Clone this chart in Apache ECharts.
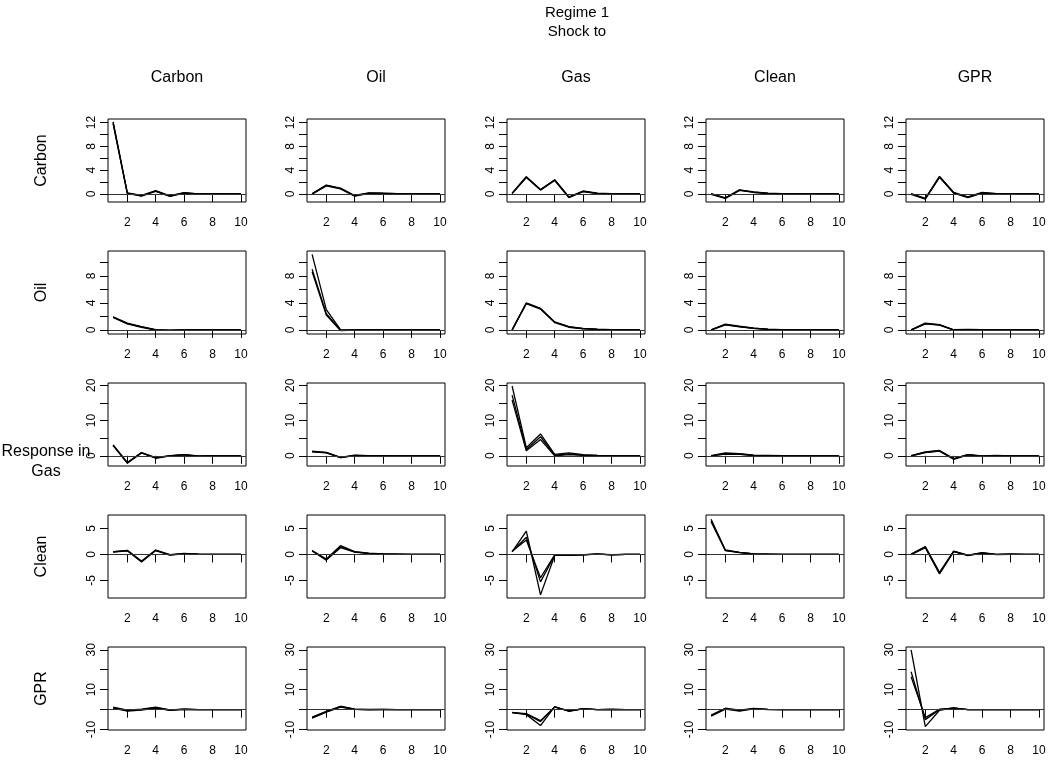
<!DOCTYPE html>
<html>
<head>
<meta charset="utf-8">
<script src="https://cdn.jsdelivr.net/npm/echarts@6/dist/echarts.min.js"></script>
<style>html,body{margin:0;padding:0;background:#fff}#c{width:1050px;height:765px}</style>
</head>
<body>
<div id="c"></div>
<script>
// ---- data ----
const variables = ['Carbon', 'Oil', 'Gas', 'Clean', 'GPR'];
const horizons = [1, 2, 3, 4, 5, 6, 7, 8, 9, 10];
const xTicks = [2, 4, 6, 8, 10];

// each array: [median, lower, upper] response paths (response in ROW variable to shock in COLUMN variable)
const carbon_to_carbon = [
  [12.0, 0.15, -0.3, 0.5, -0.35, 0.2, 0.0, 0.05, 0.0, 0.0],
  [11.8, 0.1, -0.35, 0.45, -0.4, 0.15, -0.02, 0.03, 0.0, 0.0],
  [12.1, 0.2, -0.25, 0.55, -0.3, 0.22, 0.02, 0.06, 0.01, 0.0]];
const carbon_to_oil = [
  [0.0, 1.45, 0.9, -0.3, 0.15, 0.1, 0.05, 0.02, 0.0, 0.0],
  [-0.05, 1.35, 0.85, -0.35, 0.1, 0.08, 0.03, 0.01, 0.0, 0.0],
  [0.05, 1.5, 1.0, -0.25, 0.2, 0.12, 0.06, 0.03, 0.01, 0.0]];
const carbon_to_gas = [
  [0.1, 2.85, 0.7, 2.35, -0.55, 0.45, 0.1, 0.05, 0.02, 0.0],
  [0.05, 2.75, 0.65, 2.25, -0.6, 0.4, 0.08, 0.03, 0.01, 0.0],
  [0.15, 2.9, 0.75, 2.4, -0.5, 0.5, 0.12, 0.06, 0.03, 0.01]];
const carbon_to_clean = [
  [0.0, -0.7, 0.65, 0.3, 0.1, 0.05, 0.02, 0.0, 0.0, 0.0],
  [-0.05, -0.75, 0.6, 0.25, 0.08, 0.03, 0.01, 0.0, 0.0, 0.0],
  [0.05, -0.65, 0.7, 0.35, 0.12, 0.06, 0.03, 0.01, 0.0, 0.0]];
const carbon_to_gpr = [
  [0.0, -0.8, 2.9, 0.2, -0.55, 0.2, 0.05, 0.02, 0.0, 0.0],
  [-0.05, -0.85, 2.8, 0.15, -0.6, 0.15, 0.03, 0.01, 0.0, 0.0],
  [0.05, -0.75, 2.95, 0.25, -0.5, 0.25, 0.07, 0.03, 0.01, 0.0]];

const oil_to_carbon = [
  [1.9, 0.95, 0.45, 0.0, -0.05, 0.0, 0.0, 0.0, 0.0, 0.0],
  [1.85, 0.9, 0.4, -0.03, -0.07, -0.02, 0.0, 0.0, 0.0, 0.0],
  [1.95, 1.0, 0.5, 0.03, -0.03, 0.01, 0.0, 0.0, 0.0, 0.0]];
const oil_to_oil = [
  [9.0, 2.4, -0.05, 0.0, 0.0, 0.0, 0.0, 0.0, 0.0, 0.0],
  [8.6, 2.2, -0.1, -0.02, 0.0, 0.0, 0.0, 0.0, 0.0, 0.0],
  [11.2, 3.0, 0.05, 0.02, 0.0, 0.0, 0.0, 0.0, 0.0, 0.0]];
const oil_to_gas = [
  [0.0, 3.95, 3.15, 1.15, 0.45, 0.2, 0.1, 0.05, 0.02, 0.0],
  [-0.05, 3.9, 3.1, 1.1, 0.4, 0.17, 0.08, 0.04, 0.01, 0.0],
  [0.05, 4.0, 3.2, 1.2, 0.5, 0.23, 0.12, 0.06, 0.03, 0.01]];
const oil_to_clean = [
  [0.0, 0.8, 0.5, 0.25, 0.1, 0.05, 0.02, 0.0, 0.0, 0.0],
  [-0.03, 0.75, 0.45, 0.22, 0.08, 0.03, 0.01, 0.0, 0.0, 0.0],
  [0.03, 0.85, 0.55, 0.28, 0.12, 0.06, 0.03, 0.01, 0.0, 0.0]];
const oil_to_gpr = [
  [0.0, 0.95, 0.75, 0.0, 0.05, 0.02, 0.0, 0.0, 0.0, 0.0],
  [-0.03, 0.9, 0.7, -0.03, 0.03, 0.01, 0.0, 0.0, 0.0, 0.0],
  [0.03, 1.0, 0.8, 0.03, 0.07, 0.03, 0.0, 0.0, 0.0, 0.0]];

const gas_to_carbon = [
  [3.0, -2.0, 0.85, -0.6, 0.0, 0.3, -0.1, 0.0, 0.0, 0.0],
  [2.9, -2.1, 0.8, -0.7, -0.05, 0.25, -0.15, -0.02, 0.0, 0.0],
  [3.1, -1.9, 0.9, -0.5, 0.05, 0.35, -0.05, 0.02, 0.0, 0.0]];
const gas_to_oil = [
  [1.2, 0.9, -0.5, 0.1, 0.0, 0.05, 0.0, 0.0, 0.0, 0.0],
  [1.1, 0.85, -0.55, 0.05, -0.03, 0.03, 0.0, 0.0, 0.0, 0.0],
  [1.3, 0.95, -0.45, 0.15, 0.03, 0.07, 0.01, 0.0, 0.0, 0.0]];
const gas_to_gas = [
  [17.2, 1.8, 5.4, 0.2, 0.55, 0.2, 0.08, 0.03, 0.0, 0.0],
  [15.8, 1.4, 4.6, 0.0, 0.3, 0.1, 0.05, 0.01, 0.0, 0.0],
  [19.8, 2.3, 6.2, 0.4, 0.8, 0.3, 0.1, 0.05, 0.0, 0.0]];
const gas_to_clean = [
  [0.0, 0.6, 0.5, 0.1, 0.05, 0.0, 0.0, 0.0, 0.0, 0.0],
  [-0.05, 0.45, 0.4, 0.05, 0.02, 0.0, 0.0, 0.0, 0.0, 0.0],
  [0.05, 0.8, 0.6, 0.15, 0.08, 0.02, 0.0, 0.0, 0.0, 0.0]];
const gas_to_gpr = [
  [0.0, 1.0, 1.4, -0.9, 0.3, -0.1, 0.05, 0.0, 0.0, 0.0],
  [-0.05, 0.9, 1.3, -1.0, 0.25, -0.15, 0.02, 0.0, 0.0, 0.0],
  [0.05, 1.1, 1.5, -0.8, 0.35, -0.05, 0.08, 0.0, 0.0, 0.0]];

const clean_to_carbon = [
  [0.5, 0.75, -1.35, 0.8, -0.1, 0.15, 0.05, 0.0, 0.0, 0.0],
  [0.45, 0.7, -1.45, 0.75, -0.15, 0.12, 0.03, 0.0, 0.0, 0.0],
  [0.55, 0.8, -1.25, 0.85, -0.05, 0.18, 0.07, 0.01, 0.0, 0.0]];
const clean_to_oil = [
  [0.7, -1.0, 1.5, 0.5, 0.2, 0.1, 0.05, 0.0, 0.0, 0.0],
  [0.65, -1.1, 1.3, 0.45, 0.17, 0.08, 0.03, 0.0, 0.0, 0.0],
  [0.75, -0.9, 1.7, 0.55, 0.23, 0.12, 0.07, 0.01, 0.0, 0.0]];
const clean_to_gas = [
  [0.55, 3.3, -5.3, -0.15, -0.15, -0.08, 0.07, -0.07, 0.0, 0.0],
  [0.6, 2.8, -4.5, -0.1, -0.1, -0.05, 0.05, -0.05, 0.0, 0.0],
  [0.5, 4.5, -7.8, -0.2, -0.2, -0.1, 0.1, -0.1, 0.0, 0.0]];
const clean_to_clean = [
  [6.5, 0.8, 0.38, 0.09, 0.04, 0.0, 0.0, 0.0, 0.0, 0.0],
  [6.3, 0.75, 0.35, 0.08, 0.03, 0.0, 0.0, 0.0, 0.0, 0.0],
  [6.8, 0.85, 0.4, 0.1, 0.05, 0.01, 0.0, 0.0, 0.0, 0.0]];
const clean_to_gpr = [
  [0.0, 1.4, -3.6, 0.6, -0.2, 0.3, 0.0, 0.05, 0.0, 0.0],
  [-0.05, 1.3, -3.75, 0.55, -0.25, 0.25, -0.02, 0.03, 0.0, 0.0],
  [0.05, 1.5, -3.45, 0.65, -0.15, 0.35, 0.02, 0.07, 0.0, 0.0]];

const gpr_to_carbon = [
  [1.0, -0.5, 0.0, 1.0, -0.2, 0.2, 0.0, 0.0, 0.0, 0.0],
  [0.8, -0.7, -0.2, 0.8, -0.3, 0.1, 0.0, 0.0, 0.0, 0.0],
  [1.2, -0.3, 0.2, 1.2, -0.1, 0.3, 0.05, 0.0, 0.0, 0.0]];
const gpr_to_oil = [
  [-4.0, -1.0, 1.5, 0.2, 0.0, 0.1, 0.0, 0.0, 0.0, 0.0],
  [-4.3, -1.2, 1.3, 0.1, -0.1, 0.05, 0.0, 0.0, 0.0, 0.0],
  [-3.7, -0.8, 1.7, 0.3, 0.1, 0.15, 0.0, 0.0, 0.0, 0.0]];
const gpr_to_gas = [
  [-1.4, -2.2, -6.0, 1.4, -0.7, 0.45, 0.0, 0.1, 0.0, 0.0],
  [-1.5, -2.5, -8.0, 1.5, -0.8, 0.5, 0.0, 0.1, 0.0, 0.0],
  [-1.5, -2.0, -5.5, 1.3, -0.6, 0.4, 0.0, 0.08, 0.0, 0.0]];
const gpr_to_clean = [
  [-3.0, 0.5, -0.5, 0.5, 0.1, 0.0, 0.0, 0.0, 0.0, 0.0],
  [-3.3, 0.3, -0.7, 0.4, 0.05, 0.0, 0.0, 0.0, 0.0, 0.0],
  [-2.7, 0.7, -0.3, 0.6, 0.15, 0.02, 0.0, 0.0, 0.0, 0.0]];
const gpr_to_gpr = [
  [19.0, -5.0, 0.0, 0.8, 0.0, 0.05, 0.0, 0.0, 0.0, 0.0],
  [16.5, -4.0, 0.2, 0.8, 0.0, 0.05, 0.0, 0.0, 0.0, 0.0],
  [30.0, -8.5, -0.3, 0.9, 0.0, 0.05, 0.0, 0.0, 0.0, 0.0]];

const panels = [
  [carbon_to_carbon, carbon_to_oil, carbon_to_gas, carbon_to_clean, carbon_to_gpr],
  [oil_to_carbon, oil_to_oil, oil_to_gas, oil_to_clean, oil_to_gpr],
  [gas_to_carbon, gas_to_oil, gas_to_gas, gas_to_clean, gas_to_gpr],
  [clean_to_carbon, clean_to_oil, clean_to_gas, clean_to_clean, clean_to_gpr],
  [gpr_to_carbon, gpr_to_oil, gpr_to_gas, gpr_to_clean, gpr_to_gpr]];

// y-axis per response row
const yMin = [-1.35, -0.6, -2.9, -8.4, -10.2];
const yMax = [12.6, 11.7, 20.65, 7.6, 31.4];
const yTickVals = [[0, 2, 4, 6, 8, 10, 12], [0, 2, 4, 6, 8, 10], [0, 5, 10, 15, 20], [-5, 0, 5], [-10, 0, 10, 20, 30]];
const yLabelVals = [[0, 4, 8, 12], [0, 4, 8], [0, 10, 20], [-5, 0, 5], [-10, 10, 30]];

// ---- layout ----
const colLeft = [108, 307, 507, 706, 906];
const rowTop = [119, 251, 383, 515, 647];
const boxW = 138, boxH = 83;
const FONT = '"Liberation Sans", Arial, Helvetica, sans-serif';

const grid = [], xAxis = [], yAxis = [], series = [], graphic = [];
let gi = 0;
for (let r = 0; r < 5; r++) {
  for (let c = 0; c < 5; c++) {
    grid.push({left: colLeft[c], top: rowTop[r], width: boxW, height: boxH,
      show: true, borderColor: '#000', borderWidth: 1, backgroundColor: 'transparent'});
    xAxis.push({type: 'value', gridIndex: gi, min: 0.64, max: 10.36,
      axisLine: {show: false}, splitLine: {show: false},
      axisTick: {show: true, customValues: xTicks, length: 8, inside: false, lineStyle: {color: '#000', width: 1}},
      axisLabel: {show: true, customValues: xTicks, margin: 15, color: '#000', fontSize: 12, fontFamily: FONT}});
    yAxis.push({type: 'value', gridIndex: gi, min: yMin[r], max: yMax[r],
      axisLine: {show: false}, splitLine: {show: false},
      axisTick: {show: true, customValues: yTickVals[r], length: 8, inside: false, lineStyle: {color: '#000', width: 1}},
      axisLabel: {show: true, customValues: yLabelVals[r], rotate: 90, margin: 10, color: '#000', fontSize: 12, fontFamily: FONT}});
    const lines = panels[r][c];
    lines.forEach((arr, k) => {
      const s = {type: 'line', xAxisIndex: gi, yAxisIndex: gi,
        data: horizons.map((h, i) => [h, arr[i]]),
        showSymbol: false, symbol: 'none', animation: false, silent: true,
        lineStyle: {color: '#000', width: 1.3}};
      if (k === 0) {
        s.markLine = {silent: true, symbol: 'none', animation: false, label: {show: false},
          lineStyle: {color: '#333', width: 1, type: 'solid'}, data: [{yAxis: 0}]};
      }
      series.push(s);
    });
    gi++;
  }
}

// titles
graphic.push({type: 'text', style: {text: 'Regime 1', x: 577, y: 13, align: 'center', verticalAlign: 'middle', font: '15px ' + FONT, fill: '#000'}});
graphic.push({type: 'text', style: {text: 'Shock to', x: 577, y: 32, align: 'center', verticalAlign: 'middle', font: '15px ' + FONT, fill: '#000'}});
for (let c = 0; c < 5; c++) {
  graphic.push({type: 'text', style: {text: variables[c], x: colLeft[c] + boxW / 2, y: 78, align: 'center', verticalAlign: 'middle', font: '16px ' + FONT, fill: '#000'}});
}
for (let r = 0; r < 5; r++) {
  if (r === 2) continue;
  graphic.push({type: 'text', x: 42, y: rowTop[r] + boxH / 2, rotation: Math.PI / 2,
    style: {text: variables[r], x: 0, y: 0, align: 'center', verticalAlign: 'middle', font: '16px ' + FONT, fill: '#000'}});
}
graphic.push({type: 'text', style: {text: 'Response in', x: 46, y: 452, align: 'center', verticalAlign: 'middle', font: '16px ' + FONT, fill: '#000'}});
graphic.push({type: 'text', style: {text: variables[2], x: 46, y: 472, align: 'center', verticalAlign: 'middle', font: '16px ' + FONT, fill: '#000'}});

const chart = echarts.init(document.getElementById('c'), null, {renderer: 'canvas'});
chart.setOption({animation: false, grid, xAxis, yAxis, series, graphic});
</script>
</body>
</html>
